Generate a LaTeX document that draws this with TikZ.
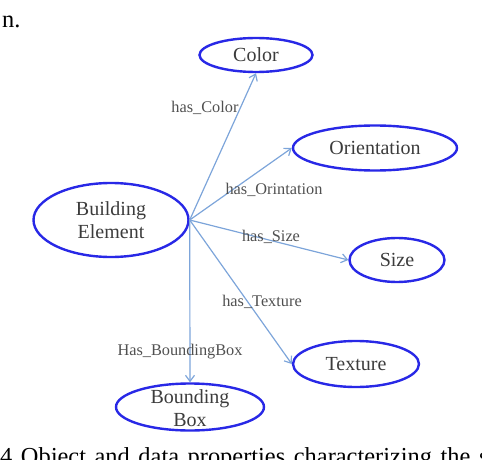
\documentclass[tikz,border=0pt]{standalone}
\usepackage{fontspec}
\setmainfont{Liberation Serif}
\usetikzlibrary{arrows.meta, shapes.geometric}
\definecolor{EB}{RGB}{40,40,230}
\definecolor{AB}{RGB}{125,165,218}
\definecolor{TG}{RGB}{60,60,60}
\definecolor{LG}{RGB}{80,80,80}

\begin{document}
\begin{tikzpicture}[
  x=1pt, y=-1pt,
  concept/.style args={#1/#2}{ellipse, draw=EB, line width=2.4pt,
                minimum width=#1pt, minimum height=#2pt, inner sep=0pt,
                text=TG, align=center, font=\fontsize{20}{23}\selectfont},
  rel/.style={-{Straight Barb[length=6pt, width=9pt]}, draw=AB, line width=1.2pt},
  prop/.style={font=\fontsize{16.3}{18}\selectfont, text=LG, inner sep=0pt},
  body/.style={font=\fontsize{24.4}{29}\selectfont, anchor=base west, inner sep=0pt}
]
\path[use as bounding box] (0,0) rectangle (482,460);
\clip (0,0) rectangle (482,460);

% Surrounding text
\node[body] (prevline) at (2,28) {n.};
\node[body] (caption) at (0,464) {\spaceskip=8.6pt 4 Object and data properties characterizing the s};

% Concepts
\node[concept=155/74] (elem)   at (111,220) {Building\\Element};
\node[concept=113/34] (color)  at (256,55)  {Color};
\node[concept=164/45] (orient) at (375,148) {Orientation};
\node[concept=95/44]  (size)   at (397,260) {Size};
\node[concept=126/46] (tex)    at (356,364) {Texture};
\node[concept=148/47] (bbox)   at (190,407)
  {\smash{\raisebox{-9pt}{\begin{tabular}{@{}c@{}}Bounding\\Box\end{tabular}}}};

% Relations
\draw[rel] (elem.east) -- (color.south);
\draw[rel] (elem.east) -- (orient.west);
\draw[rel] (elem.east) -- (size.west);
\draw[rel] (elem.east) -- (tex.west);
\draw[rel] (elem.east) -- (bbox.north);

% Labels
\node[prop] (lcolor)  at (205,108) {has\_Color};
\node[prop] (lorient) at (274,190) {has\_Orintation};
\node[prop] (lsize)   at (271,237) {has\_Size};
\node[prop] (ltex)    at (262,302) {has\_Texture};
\node[prop] (lbbox)   at (180,352) {Has\_BoundingBox};
\end{tikzpicture}
\end{document}
